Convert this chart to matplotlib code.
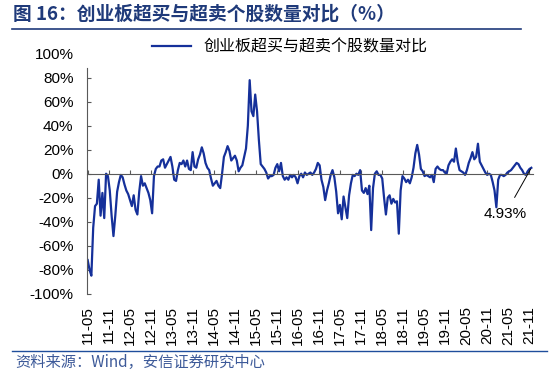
import matplotlib
matplotlib.use('agg')
import matplotlib.pyplot as plt
import matplotlib.dates as mdates
from matplotlib.lines import Line2D
import pandas as pd

plt.rcParams['font.family'] = ['Liberation Sans', 'Noto Sans CJK SC']

title = "图 16：创业板超买与超卖个股数量对比（%）"
series_name = "创业板超买与超卖个股数量对比"
source = "资料来源：Wind，安信证券研究中心"

# roughly twice a month, 2011-05 .. 2021-11 (%)
ratio = [
    -72, -80, -85, -45, -27, -25, -5, -35, -16, -37, 0, -2, -14, -35, -52, -35,
    -15, -7, -1, -3, -9, -14, -17, -22, -27, -18, -30, -34, -15, -2, -10, -8,
    -12, -16, -22, -33, -2, 4, 6, 6, 11, 12, 5, 8, 11, 14, 6, -5,
    -6, 3, 9, 8, 11, 6, 11, 4, 3, 18, 6, 5, 12, 16, 22, 17,
    9, 5, 3, -4, -10, -8, -6, -10, -12, 0, 14, 18, 23, 19, 11, 13,
    15, 11, 2, 5, 7, 14, 21, 40, 78, 52, 48, 66, 52, 28, 8, 6,
    4, 1, -4, -2, -2, -1, 5, 8, 2, 9, -2, -5, -3, -5, -1, -3,
    -1, -3, -8, -2, 0, -3, 1, -1, 0, 1, -1, 1, 4, 9, 7, -5,
    -11, -22, -14, -8, -1, 3, -3, -15, -33, -26, -38, -19, -28, -37, -18, -8,
    -1, -2, 0, -1, 3, -14, -16, -12, -17, -10, -47, -12, 0, 2, -1, -1,
    -4, -20, -34, -20, -18, -25, -21, -24, -23, -50, -14, -2, -4, -7, -5, -8,
    -3, 5, 17, 24, 16, 4, 2, -2, -1, -2, -3, -1, -7, 4, 6, 4,
    3, 3, 1, 0, 7, 10, 12, 10, 21, 10, 3, 2, 1, -1, 3, 9,
    13, 18, 12, 14, 25, 10, 7, 4, 1, -1, 0, -1, -7, -14, -28, -5,
    -1, -1, -2, -1, 1, 2, 3, 5, 7, 9, 8, 5, 3, 0, -1, 2,
    4, 4.93,
]
dates = pd.date_range('2011-05-01', '2021-11-20', periods=len(ratio))

tick_dates = pd.date_range('2011-05-01', '2021-11-01', freq='6MS')
tick_labels = [d.strftime('%y-%m') for d in tick_dates]
y_ticks = list(range(-100, 101, 20))

navy = '#1f3a7a'
line_blue = '#15309a'
axis_grey = '#595959'

fig = plt.figure(figsize=(5.5, 3.76), dpi=100)
ax = fig.add_axes([0.159, 0.219, 0.81, 0.638])

x = mdates.date2num(dates)
ax.plot(x, ratio, color=line_blue, linewidth=1.6, label=series_name)

ax.set_xlim(mdates.date2num(pd.Timestamp('2011-04-29')),
            mdates.date2num(pd.Timestamp('2021-12-04')))
ax.set_ylim(-100, 100)

for s in ['top', 'right']:
    ax.spines[s].set_visible(False)
ax.spines['bottom'].set_position(('data', 0))
ax.spines['bottom'].set_color(axis_grey)
ax.spines['left'].set_color(axis_grey)
ax.spines['left'].set_bounds(-100, 88)

tick_x = mdates.date2num(tick_dates)
ax.set_xticks(tick_x)
ax.tick_params(axis='x', direction='in', length=3, color=axis_grey,
               labelbottom=False)
ax.set_yticks(y_ticks)
ax.set_yticklabels([f'{v}%' for v in y_ticks])
ax.tick_params(axis='y', direction='in', length=3, color=axis_grey,
               labelsize=11, pad=10)
ax.yaxis.get_major_ticks()[-1].tick1line.set_visible(False)

sec = ax.secondary_xaxis(0)
sec.set_xticks(tick_x)
sec.set_xticklabels(tick_labels, rotation=90, fontsize=11)
sec.tick_params(length=0, pad=9)
sec.spines['bottom'].set_visible(False)

ax.annotate('4.93%', xy=(x[-1], ratio[-1]),
            xytext=(mdates.date2num(pd.Timestamp('2021-04-05')), -34),
            ha='center', va='center', fontsize=11,
            arrowprops=dict(arrowstyle='-', color='black', linewidth=0.7,
                            shrinkA=6, shrinkB=1))

fig.legend(loc='center', bbox_to_anchor=(0.527, 0.875), frameon=False,
           handlelength=2.4,
           prop={'family': ['Noto Sans CJK SC'], 'size': 11.5})

fig.text(0.024, 0.963, title, color=navy, fontsize=13.5, fontweight='bold',
         va='center', family=['Noto Sans CJK SC'])
fig.add_artist(Line2D([0.022, 0.947], [0.923, 0.923], color=navy,
                      linewidth=1.2, transform=fig.transFigure))
fig.add_artist(Line2D([0.022, 0.995], [0.0665, 0.0665], color='#1f4e9c',
                      linewidth=1.0, transform=fig.transFigure))
fig.text(0.027, 0.035, source, color='#3d5a99', fontsize=11, style='italic',
         va='center', family=['Noto Sans CJK SC', 'Liberation Sans'])

fig.savefig('out.png', dpi=100)
